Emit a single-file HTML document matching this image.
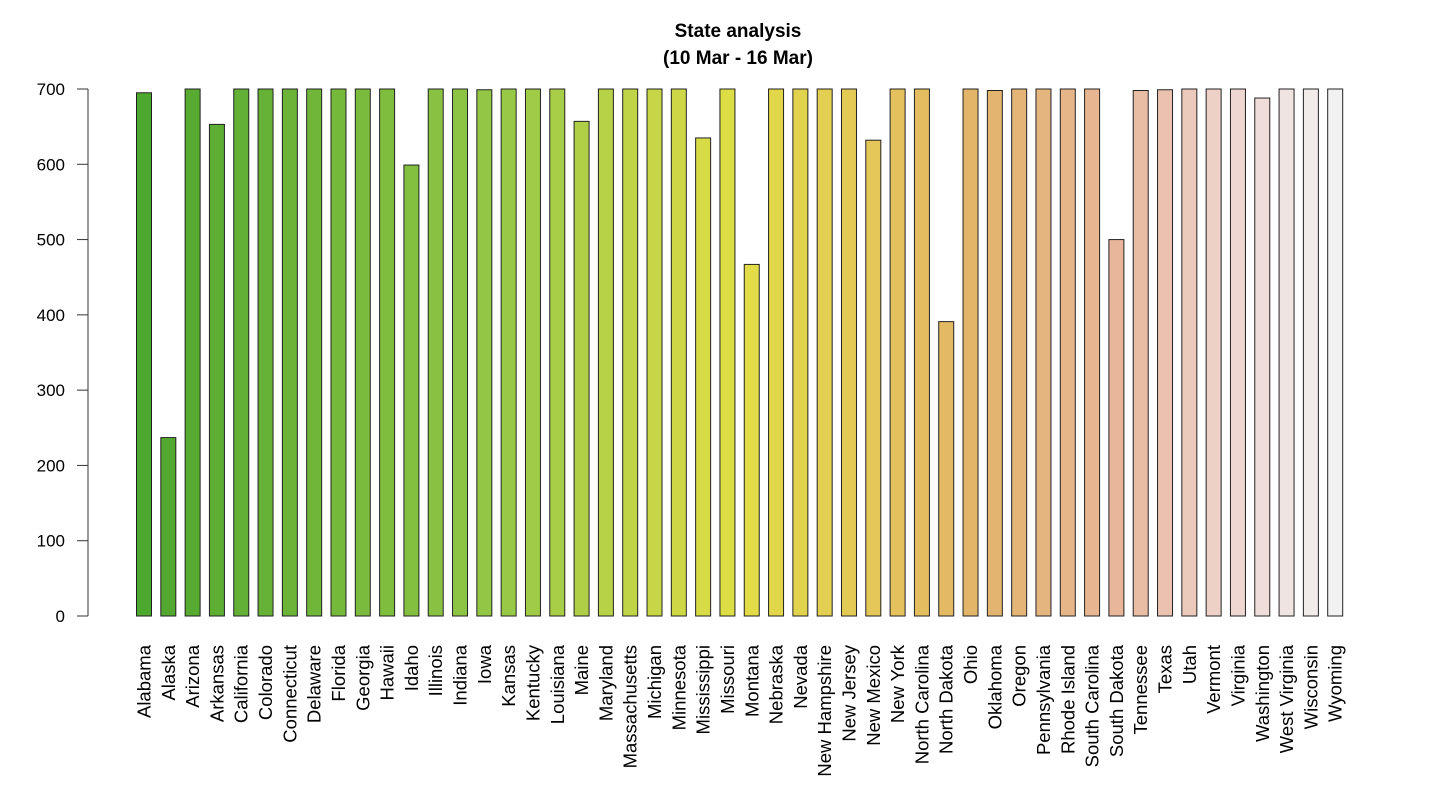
<!DOCTYPE html>
<html><head><meta charset="utf-8"><style>
body{margin:0;background:#fff;}
svg{display:block;font-family:"Liberation Sans",Arial,sans-serif;}
</style></head><body>
<svg id="chart" width="1434" height="791">
<text x="738" y="37" text-anchor="middle" font-weight="bold" font-size="19">State analysis</text>
<text x="738" y="64" text-anchor="middle" font-weight="bold" font-size="19">(10 Mar - 16 Mar)</text>
<g id="yaxis"></g>
<g id="bars"></g>
<g id="xlabels"></g>
</svg>
<script>
const states=["Alabama","Alaska","Arizona","Arkansas","California","Colorado","Connecticut","Delaware","Florida","Georgia","Hawaii","Idaho","Illinois","Indiana","Iowa","Kansas","Kentucky","Louisiana","Maine","Maryland","Massachusetts","Michigan","Minnesota","Mississippi","Missouri","Montana","Nebraska","Nevada","New Hampshire","New Jersey","New Mexico","New York","North Carolina","North Dakota","Ohio","Oklahoma","Oregon","Pennsylvania","Rhode Island","South Carolina","South Dakota","Tennessee","Texas","Utah","Vermont","Virginia","Washington","West Virginia","Wisconsin","Wyoming"];
const values=[695,237,700,653,700,700,700,700,700,700,700,599,700,700,699,700,700,700,657,700,700,700,700,635,700,467,700,700,700,700,632,700,700,391,700,698,700,700,700,700,500,698,699,700,700,700,688,700,700,700];
const yTicks=[0,100,200,300,400,500,600,700];
const NS="http://www.w3.org/2000/svg";
const y0=616,y700=89;
function yScale(v){return y0-(v/700)*(y0-y700);}
function xScale(i){return 136+i*24.31;}
const bw=15;
const stops=[[0,[78,167,46]],[0.3,[150,200,70]],[0.5,[225,222,70]],[0.62,[228,196,90]],[0.7,[226,180,105]],[0.82,[232,182,155]],[0.92,[238,215,210]],[1,[242,242,242]]];
function col(t){for(let k=1;k<stops.length;k++){if(t<=stops[k][0]){const a=stops[k-1],b=stops[k];const f=(t-a[0])/(b[0]-a[0]);return "rgb("+a[1].map((c,j)=>Math.round(c+(b[1][j]-c)*f)).join(",")+")";}}return "rgb(242,242,242)";}
const ya=document.getElementById('yaxis');
const ln=document.createElementNS(NS,'line');


ln.setAttribute('x1',88);ln.setAttribute('x2',88);ln.setAttribute('y1',yScale(0));ln.setAttribute('y2',yScale(700));ln.setAttribute('stroke','#333');ya.appendChild(ln);
yTicks.forEach(t=>{
 const tk=document.createElementNS(NS,'line');
 
 
 tk.setAttribute('x1',77);tk.setAttribute('x2',88);tk.setAttribute('y1',yScale(t));tk.setAttribute('y2',yScale(t));tk.setAttribute('stroke','#333');ya.appendChild(tk);
 const tx=document.createElementNS(NS,'text');
 
 
 tx.setAttribute('x',65);tx.setAttribute('y',yScale(t)+6);tx.setAttribute('text-anchor','end');tx.setAttribute('font-size','17');tx.textContent=t;ya.appendChild(tx);
});
const bg=document.getElementById('bars'),xl=document.getElementById('xlabels');
states.forEach((s,i)=>{
 const r=document.createElementNS(NS,'rect');
 
 
 r.setAttribute('x',xScale(i)+0.5);r.setAttribute('y',yScale(values[i]));r.setAttribute('width',bw);r.setAttribute('height',yScale(0)-yScale(values[i]));
 r.setAttribute('fill',col(i/(states.length-1)));r.setAttribute('stroke','#222');r.setAttribute('stroke-width','1');bg.appendChild(r);
 const cx=xScale(i)+bw/2+0.5;
 const t=document.createElementNS(NS,'text');
 
 
 t.setAttribute('transform','translate('+(cx+6.5)+',645) rotate(-90)');t.setAttribute('text-anchor','end');t.setAttribute('font-size','18.5');t.textContent=s;xl.appendChild(t);
});
</script>
</body></html>
